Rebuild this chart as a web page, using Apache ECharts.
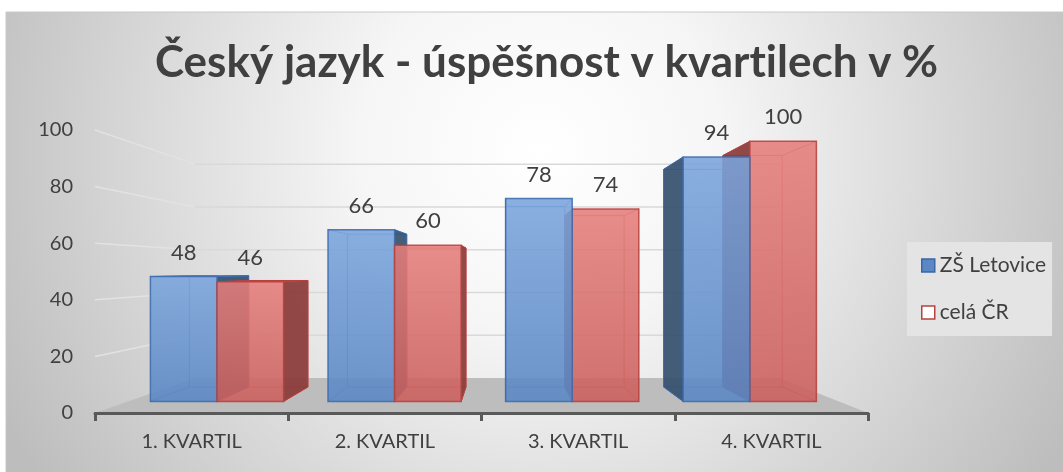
<!DOCTYPE html>
<html>
<head>
<meta charset="utf-8">
<script src="https://cdn.jsdelivr.net/npm/echarts@6/dist/echarts.min.js"></script>
<style>
  html, body { margin: 0; padding: 0; background: #fff; }
  #chart { width: 1063px; height: 472px; }
</style>
</head>
<body>
<div id="chart"></div>
<script>
const categories = ['1. KVARTIL', '2. KVARTIL', '3. KVARTIL', '4. KVARTIL']
const schoolValues = [48, 66, 78, 94]
const czValues = [46, 60, 74, 100]
const yTicks = [0, 20, 40, 60, 80, 100]

// camera: vanishing point and depth scales (floor front = 1)
const VP = [505, 270]
const S_FRONT = 0.919
const S_BACK = 0.818
const S_WALL = 0.756
const BAR_RATIO = 0.375
const FONT = 'Lato, "Open Sans", sans-serif'

function proj(p, s) {
  return [VP[0] + (p[0] - VP[0]) * s, VP[1] + (p[1] - VP[1]) * s]
}

function barRenderer(side, pal) {
  return function (params, api) {
    const i = api.value(0)
    const v = api.value(1)
    const base = api.coord([i, 0])
    const top = api.coord([i, v])
    const w = api.size([1, 0])[0] * BAR_RATIO
    const x0 = side < 0 ? base[0] - w : base[0]
    const x1 = x0 + w
    const yb = base[1]
    const yt = top[1]
    const fTL = proj([x0, yt], S_FRONT)
    const fTR = proj([x1, yt], S_FRONT)
    const fBL = proj([x0, yb], S_FRONT)
    const fBR = proj([x1, yb], S_FRONT)
    const bTL = proj([x0, yt], S_BACK)
    const bTR = proj([x1, yt], S_BACK)
    const bBL = proj([x0, yb], S_BACK)
    const bBR = proj([x1, yb], S_BACK)
    const cx = (fTL[0] + fTR[0]) / 2
    const z = (1000 - Math.round(Math.abs(cx - VP[0]))) * 10
    const children = []
    const edge = { stroke: pal.edge, lineWidth: 1, fill: null, opacity: 0.7 }
    children.push({ type: 'polyline', shape: { points: [bTL, bTR, bBR, bBL, bTL] }, style: edge, z2: z })
    ;[[fBL, bBL], [fBR, bBR], [fTL, bTL], [fTR, bTR]].forEach(function (seg) {
      children.push({ type: 'line', shape: { x1: seg[0][0], y1: seg[0][1], x2: seg[1][0], y2: seg[1][1] }, style: edge, z2: z })
    })
    if (fTR[0] < VP[0]) {
      children.push({ type: 'polygon', shape: { points: [fTR, bTR, bBR, fBR] },
        style: { fill: pal.side, stroke: pal.border, lineWidth: 1, opacity: 0.92 }, z2: z + 1 })
    }
    if (fTL[0] > VP[0]) {
      children.push({ type: 'polygon', shape: { points: [fTL, bTL, bBL, fBL] },
        style: { fill: pal.side, stroke: pal.border, lineWidth: 1, opacity: 0.92 }, z2: z + 1 })
    }
    if (yt > VP[1]) {
      children.push({ type: 'polygon', shape: { points: [fTL, fTR, bTR, bTL] },
        style: { fill: pal.top, stroke: pal.border, lineWidth: 1 }, z2: z + 2 })
    }
    children.push({
      type: 'rect',
      shape: { x: fTL[0], y: fTL[1], width: fTR[0] - fTL[0], height: fBL[1] - fTL[1] },
      style: {
        fill: new echarts.graphic.LinearGradient(0, 0, 0, 1, [
          { offset: 0, color: pal.front[0] },
          { offset: 1, color: pal.front[1] }
        ]),
        stroke: pal.border,
        lineWidth: 1.5,
        opacity: 0.88
      },
      z2: z + 3
    })
    children.push({
      type: 'text',
      x: cx,
      y: fTL[1] - 24,
      style: { text: String(v), fill: '#404040', font: '22px ' + FONT, align: 'center', verticalAlign: 'middle' },
      z2: 50000
    })
    return { type: 'group', children: children }
  }
}

function wallRenderer(params, api) {
  const v = api.value(1)
  const cs = params.coordSys
  const gx = cs.x
  const gr = cs.x + cs.width
  const y = api.coord([0, v])[1]
  if (v === 0) {
    return {
      type: 'polygon',
      shape: { points: [[gx, y], [gr, y], proj([gr, y], S_WALL), proj([gx, y], S_WALL)] },
      style: { fill: '#bdbdbd' },
      z2: 0
    }
  }
  const bl = proj([gx, y], S_WALL)
  const br = proj([gr, y], S_WALL)
  return {
    type: 'group',
    children: [
      { type: 'line', shape: { x1: gx, y1: y, x2: bl[0], y2: bl[1] }, style: { stroke: '#e2e2e2', lineWidth: 1.5 }, z2: 1 },
      { type: 'line', shape: { x1: bl[0], y1: bl[1], x2: br[0], y2: br[1] }, style: { stroke: '#d9d9d9', lineWidth: 1.5 }, z2: 1 }
    ]
  }
}

const chart = echarts.init(document.getElementById('chart'))
chart.setOption({
  animation: false,
  graphic: [{
    type: 'rect',
    z: -10,
    shape: { x: 6, y: 12, width: 1060, height: 464 },
    style: {
      fill: {
        type: 'radial', x: 540, y: 150, r: 600, global: true,
        colorStops: [
          { offset: 0, color: '#ffffff' },
          { offset: 0.3, color: '#f6f6f6' },
          { offset: 1, color: '#bdbdbd' }
        ]
      },
      stroke: '#c8c8c8',
      lineWidth: 1
    }
  }],
  title: {
    // zero-width non-joiner keeps Lato from drawing a "ti" ligature
    text: 'Český jazyk - úspěšnost v kvart\u200Cilech v %',
    left: 150,
    top: 36,
    textStyle: { fontFamily: FONT, fontSize: 44, fontWeight: 'bold', color: '#404040' }
  },
  legend: {
    orient: 'vertical',
    left: 907,
    top: 242,
    backgroundColor: '#e4e4e4',
    padding: [13, 6, 13, 14],
    itemWidth: 13,
    itemHeight: 13,
    itemGap: 26,
    textStyle: { fontFamily: FONT, fontSize: 21, color: '#404040', lineHeight: 20 },
    data: [
      { name: 'ZŠ Letovice', icon: 'rect', itemStyle: { color: '#5b87c5', borderColor: '#3a66a5', borderWidth: 1.5 } },
      { name: 'celá ČR', icon: 'rect', itemStyle: { color: '#ffffff', borderColor: '#b8403d', borderWidth: 1.5 } }
    ]
  },
  grid: { left: 95, right: 195, top: 130, bottom: 59 },
  xAxis: {
    type: 'category',
    data: categories,
    z: 10,
    axisLine: { lineStyle: { color: '#595959', width: 3 } },
    axisTick: { show: true, length: 8, lineStyle: { color: '#595959', width: 3 } },
    axisLabel: { fontFamily: FONT, fontSize: 20, color: '#404040', margin: 19 }
  },
  yAxis: {
    type: 'value',
    min: 0,
    max: 100,
    interval: 20,
    axisLine: { show: false },
    axisTick: { show: false },
    splitLine: { show: false },
    axisLabel: { fontFamily: FONT, fontSize: 20, color: '#404040', margin: 22 }
  },
  series: [
    {
      type: 'custom',
      name: 'wall',
      silent: true,
      clip: false,
      renderItem: wallRenderer,
      encode: { x: 0, y: 1 },
      data: yTicks.map(function (t) { return [0, t] })
    },
    {
      type: 'custom',
      name: 'ZŠ Letovice',
      clip: false,
      itemStyle: { color: '#5b87c5' },
      renderItem: barRenderer(-1, {
        front: ['#7aa4dc', '#5a87c4'], side: '#34506f', top: '#8fb4e6',
        border: '#3d6cae', edge: '#3d6cae'
      }),
      encode: { x: 0, y: 1 },
      data: schoolValues.map(function (v, i) { return [i, v] })
    },
    {
      type: 'custom',
      name: 'celá ČR',
      clip: false,
      itemStyle: { color: '#ffffff' },
      renderItem: barRenderer(1, {
        front: ['#e57e7b', '#cb5f5c'], side: '#8a3a38', top: '#e99592',
        border: '#b8403d', edge: '#b8403d'
      }),
      encode: { x: 0, y: 1 },
      data: czValues.map(function (v, i) { return [i, v] })
    }
  ]
})
</script>
</body>
</html>
